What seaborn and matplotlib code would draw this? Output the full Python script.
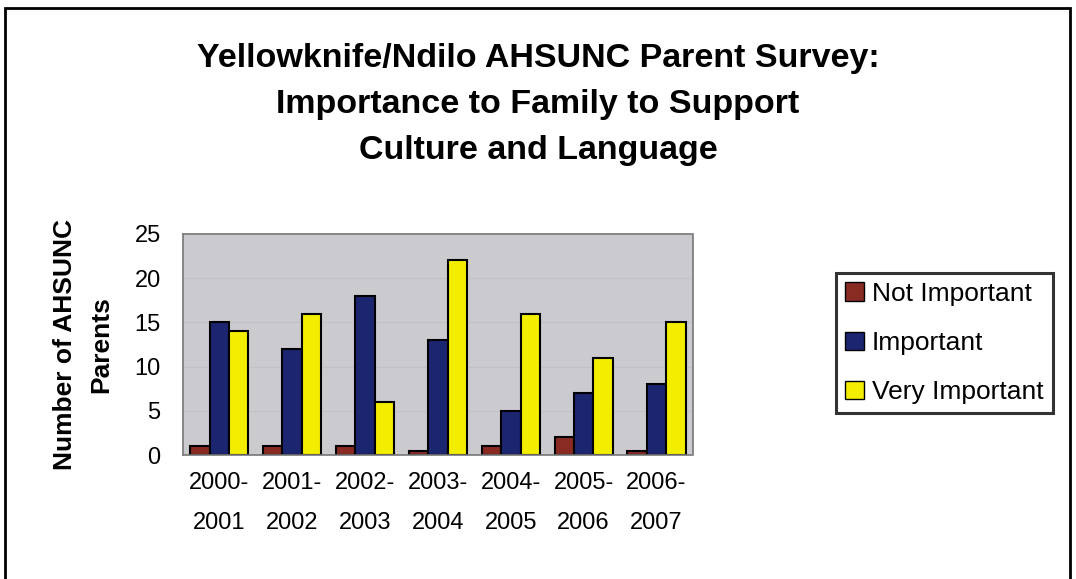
import matplotlib
matplotlib.use("Agg")
import matplotlib.pyplot as plt
import seaborn as sns
import pandas as pd
from matplotlib.patches import Rectangle, Patch

years = ["2000-\n2001", "2001-\n2002", "2002-\n2003", "2003-\n2004",
         "2004-\n2005", "2005-\n2006", "2006-\n2007"]
series_names = ["Not Important", "Important", "Very Important"]
not_important = [1, 1, 1, 0.5, 1, 2, 0.5]
important = [15, 12, 18, 13, 5, 7, 8]
very_important = [14, 16, 6, 22, 16, 11, 15]
colors = ["#8a2b23", "#1c2570", "#f3ee00"]

rows = []
for name, vals in zip(series_names, [not_important, important, very_important]):
    for y, v in zip(years, vals):
        rows.append({"year": y, "level": name, "count": v})
df = pd.DataFrame(rows)

sns.set_style("white")
plt.rcParams['font.family'] = ['Liberation Sans', 'DejaVu Sans']
plt.rcParams['text.color'] = 'black'
plt.rcParams['axes.labelcolor'] = 'black'
plt.rcParams['xtick.color'] = 'black'
plt.rcParams['ytick.color'] = 'black'

fig = plt.figure(figsize=(10.76, 5.79), dpi=100)
fig.patch.set_facecolor("white")
ax = fig.add_axes([0.170, 0.214, 0.474, 0.382])
ax.set_facecolor("#cbcbcf")

sns.barplot(data=df, x="year", y="count", hue="level", hue_order=series_names,
            order=years, palette=colors, saturation=1, edgecolor="black",
            linewidth=1.5, width=0.8, ax=ax, legend=False)

ax.set_ylim(0, 25)
ax.set_yticks([0, 5, 10, 15, 20, 25])
ax.yaxis.grid(True, color="#c0c0c5", linewidth=0.8)
ax.set_axisbelow(True)
for s in ax.spines.values():
    s.set_color("#777777")
    s.set_linestyle((0, (2, 1)))
    s.set_linewidth(1.2)
ax.tick_params(axis="y", labelsize=17, pad=16, length=0)
ax.tick_params(axis="x", labelsize=17, pad=12, length=0)
for lab in ax.get_xticklabels():
    lab.set_linespacing(2.1)
ax.set_xlabel("")
ax.set_ylabel("Number of AHSUNC\nParents", fontsize=19, fontweight="bold", labelpad=15,
              linespacing=1.65)

fig.text(0.5, 0.82, "Yellowknife/Ndilo AHSUNC Parent Survey:\nImportance to Family to Support\nCulture and Language",
         ha="center", va="center", fontsize=24.5, fontweight="bold",
         linespacing=1.62)

handles = [Patch(facecolor=c, edgecolor="black", linewidth=1) for c in colors]
leg = fig.legend(handles, series_names, loc="upper left",
                 bbox_to_anchor=(0.777, 0.529), fontsize=19, frameon=True,
                 fancybox=False, edgecolor="black", handlelength=0.7,
                 handleheight=0.7, handletextpad=0.3, labelspacing=0.95,
                 borderpad=0.35, borderaxespad=0)
leg.get_frame().set_linewidth(2.2)

fig.patches.append(Rectangle((0.005, -0.05), 0.989, 1.036, transform=fig.transFigure,
                             fill=False, edgecolor="black", linewidth=2))

fig.savefig("out.png", dpi=100)
